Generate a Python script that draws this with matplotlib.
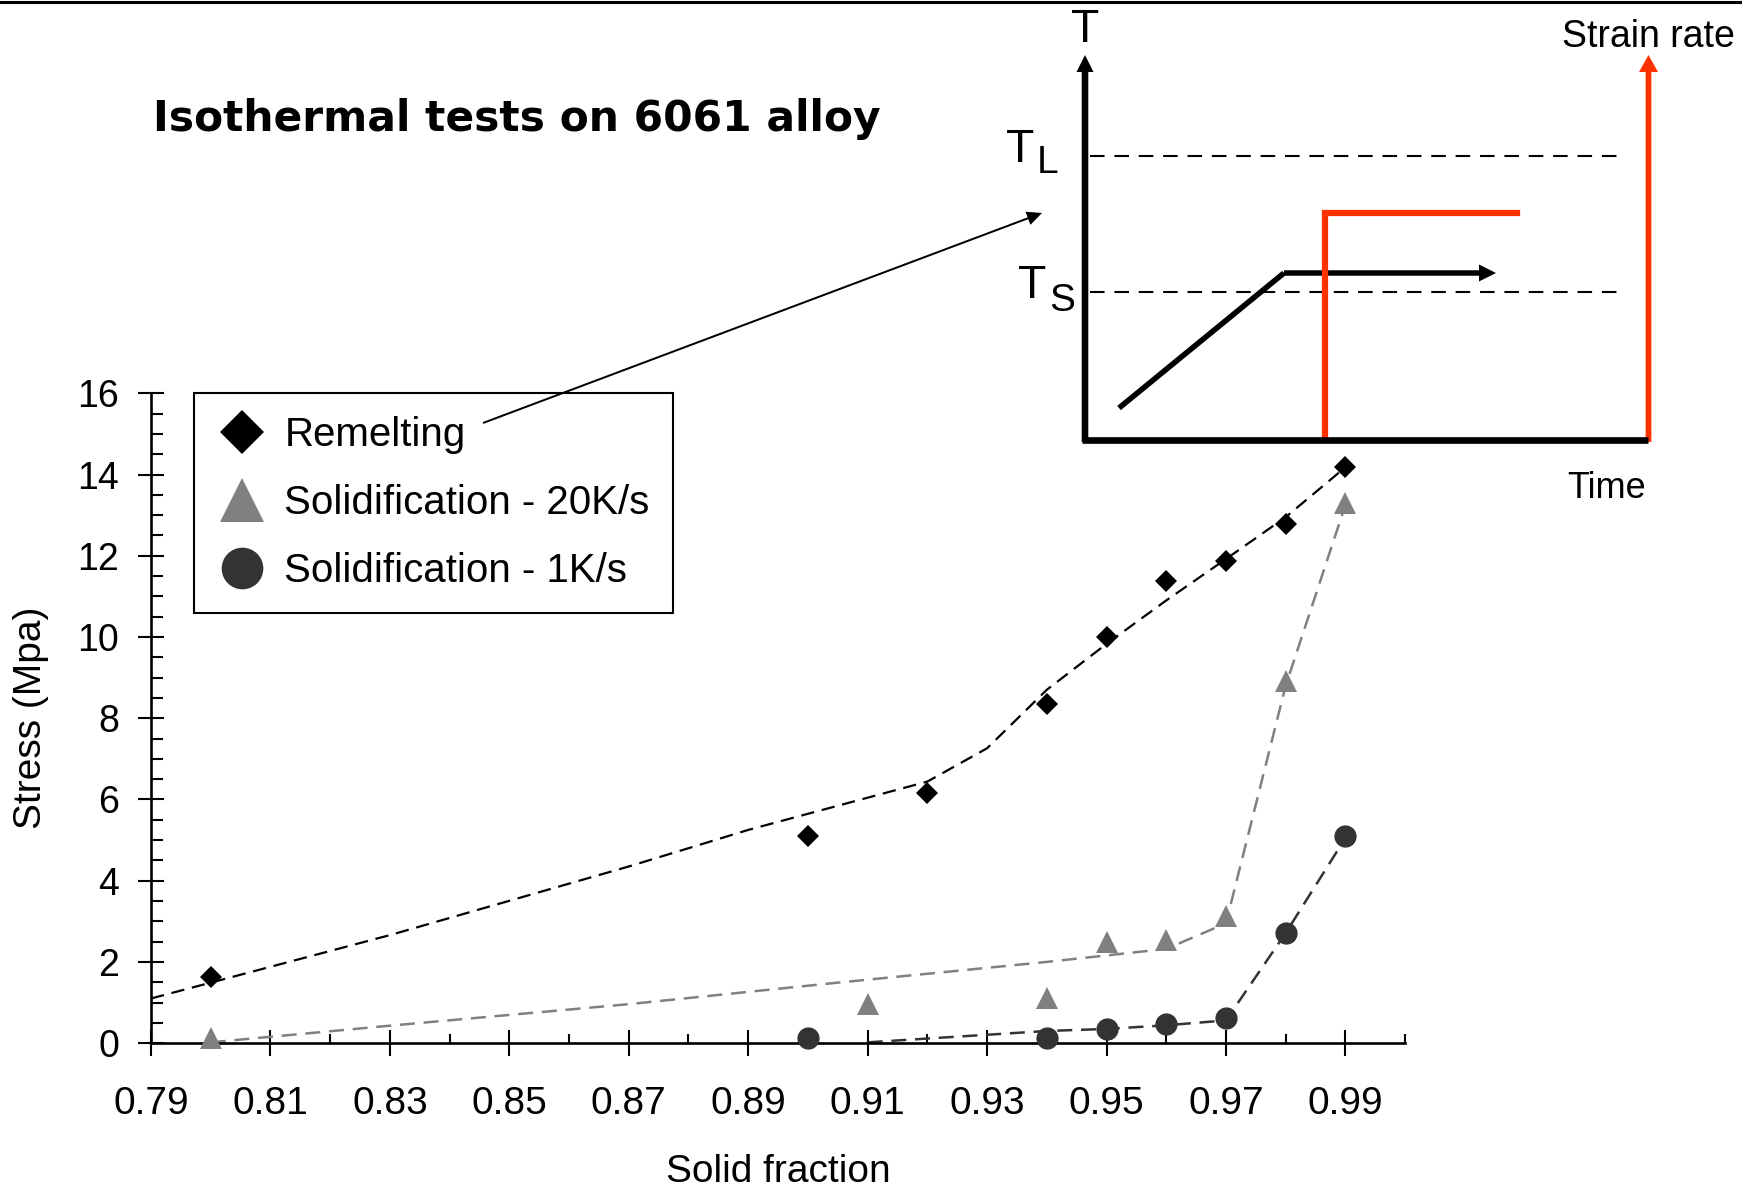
import matplotlib
matplotlib.use('Agg')
import matplotlib.pyplot as plt
from matplotlib.lines import Line2D
from matplotlib.ticker import MultipleLocator, FixedLocator

plt.rcParams['font.family'] = ['Liberation Sans', 'DejaVu Sans']

# ---- data ----
remelt_x = [0.80, 0.90, 0.92, 0.94, 0.95, 0.96, 0.97, 0.98, 0.99]
remelt_y = [1.64, 5.10, 6.15, 8.34, 10.0, 11.37, 11.88, 12.77, 14.18]
remelt_fit_x = [0.79, 0.83, 0.87, 0.89, 0.92, 0.93, 0.94, 0.95, 0.96, 0.97, 0.98, 0.99]
remelt_fit_y = [1.10, 2.66, 4.35, 5.25, 6.44, 7.26, 8.70, 9.83, 10.9, 11.92, 12.95, 14.18]

fast_x = [0.80, 0.91, 0.94, 0.95, 0.96, 0.97, 0.98, 0.99]
fast_y = [0.13, 0.97, 1.11, 2.48, 2.54, 3.14, 8.91, 13.31]
fast_fit_x = [0.80, 0.83, 0.87, 0.905, 0.94, 0.96, 0.97, 0.98, 0.99]
fast_fit_y = [0.02, 0.43, 0.96, 1.49, 2.0, 2.32, 2.95, 8.8, 13.25]

slow_x = [0.90, 0.94, 0.95, 0.96, 0.97, 0.98, 0.99]
slow_y = [0.12, 0.12, 0.36, 0.46, 0.61, 2.71, 5.10]
slow_fit_x = [0.91, 0.94, 0.95, 0.96, 0.97, 0.98, 0.99]
slow_fit_y = [0.02, 0.30, 0.35, 0.44, 0.56, 2.71, 5.05]

labels = ['Remelting', 'Solidification - 20K/s', 'Solidification - 1K/s']
xticks = [0.79, 0.81, 0.83, 0.85, 0.87, 0.89, 0.91, 0.93, 0.95, 0.97, 0.99]
xticklabels = ['0.79', '0.81', '0.83', '0.85', '0.87', '0.89', '0.91', '0.93', '0.95', '0.97', '0.99']
xminor = [0.80, 0.82, 0.84, 0.86, 0.88, 0.90, 0.92, 0.94, 0.96, 0.98, 1.00]

# schematic (drawn in figure pixels)
t_axis = ([1085, 1085], [442, 55])
time_axis = ([1082, 1648], [439.5, 439.5])
rate_axis = ([1648.5, 1648.5], [442, 55])
tl_line = ([1090, 1619], [156, 156])
ts_line = ([1090, 1619], [292, 292])
ramp = ([1119, 1284], [408, 273])
hold = ([1284, 1496], [273, 273])
step = ([1325, 1325, 1517], [439, 213, 213])
pointer = ([483, 1042], [423, 213])

RED = '#ff3300'
GRAY = '#808080'
DARK = '#333333'

fig = plt.figure(figsize=(17.42, 11.90), dpi=100)
ax = fig.add_axes([0.0867, 0.1234, 0.7199, 0.5461])

dash = (0, (6, 3.5))
ax.plot(remelt_fit_x, remelt_fit_y, color='black', lw=1.6, ls=dash, zorder=2)
ax.plot(fast_fit_x, fast_fit_y, color=GRAY, lw=1.8, ls=dash, zorder=2)
ax.plot(slow_fit_x, slow_fit_y, color=DARK, lw=1.8, ls=dash, zorder=2)

ax.plot(remelt_x, remelt_y, ls='none', marker='D', color='black', ms=11.5, mew=0, zorder=3, clip_on=False)
ax.plot(fast_x, fast_y, ls='none', marker='^', color=GRAY, ms=16, mew=0, zorder=3, clip_on=False)
ax.plot(slow_x, slow_y, ls='none', marker='o', color=DARK, ms=16, mew=0, zorder=3, clip_on=False)

ax.set_xlim(0.79, 1.00)
ax.set_ylim(0, 16)
ax.xaxis.set_major_locator(FixedLocator(xticks))
ax.set_xticklabels(xticklabels)
ax.xaxis.set_minor_locator(FixedLocator(xminor))
ax.yaxis.set_major_locator(MultipleLocator(2))
ax.yaxis.set_minor_locator(MultipleLocator(0.5))

for s in ['top', 'right']:
    ax.spines[s].set_visible(False)
for s in ['left', 'bottom']:
    ax.spines[s].set_linewidth(1.9)

ax.tick_params(axis='both', which='major', direction='inout', length=19.2, width=1.5)
ax.tick_params(axis='y', which='major', pad=13.5, labelsize=27)
ax.tick_params(axis='x', which='major', pad=21.5, labelsize=28)
ax.tick_params(axis='y', which='minor', direction='in', length=8.4, width=1.5)
ax.tick_params(axis='x', which='minor', direction='in', length=6.7, width=1.5)

ax.set_ylabel('Stress (Mpa)', fontsize=28)
ax.yaxis.set_label_coords(-0.081, 0.5)
ax.set_xlabel('Solid fraction', fontsize=28, va='top')
ax.xaxis.set_label_coords(0.5, -0.1705)

handles = [
    Line2D([], [], ls='none', marker='D', color='black', ms=22, mew=0),
    Line2D([], [], ls='none', marker='^', color=GRAY, ms=31, mew=0),
    Line2D([], [], ls='none', marker='o', color=DARK, ms=30, mew=0),
]
leg = ax.legend(handles, labels, loc='upper left', bbox_to_anchor=(0.0343, 1.0),
                fontsize=29, numpoints=1, frameon=True, fancybox=False,
                edgecolor='black', framealpha=1, borderpad=0.57, labelspacing=0.74,
                handlelength=1.22, handletextpad=0.45, borderaxespad=0)
leg.get_frame().set_linewidth(1.5)

# overlay in pixel coordinates for the title and the schematic
ov = fig.add_axes([0, 0, 1, 1], zorder=5)
ov.set_xlim(0, 1742)
ov.set_ylim(1190, 0)
ov.set_axis_off()

ov.plot([0, 1742], [1.5, 1.5], color='black', lw=2.2)
ov.text(153, 131, 'Isothermal tests on 6061 alloy', fontsize=30.5, fontweight='bold',
        family='DejaVu Sans', ha='left', va='baseline')

ov.plot(*tl_line, color='black', lw=1.5, ls=(0, (7, 4.7)))
ov.plot(*ts_line, color='black', lw=1.5, ls=(0, (7, 4.7)))
ov.plot(*step, color=RED, lw=4.5, solid_joinstyle='miter')
ov.plot(*ramp, color='black', lw=4.0, solid_capstyle='butt')
ov.arrow(hold[0][0], hold[1][0], hold[0][1] - hold[0][0], 0, width=5.5, head_width=17,
         head_length=17, length_includes_head=True, color='black', lw=0)
ov.arrow(t_axis[0][0], t_axis[1][0], 0, t_axis[1][1] - t_axis[1][0], width=6.6, head_width=17,
         head_length=17, length_includes_head=True, color='black', lw=0)
ov.arrow(rate_axis[0][0], rate_axis[1][0], 0, rate_axis[1][1] - rate_axis[1][0], width=5.7,
         head_width=19, head_length=17, length_includes_head=True, color=RED, lw=0)
ov.plot(*time_axis, color='black', lw=4.8, solid_capstyle='butt')
ov.arrow(pointer[0][0], pointer[1][0], pointer[0][1] - pointer[0][0], pointer[1][1] - pointer[1][0],
         width=2.0, head_width=14, head_length=15, length_includes_head=True, color='black', lw=0)

ov.text(1085, 42, 'T', fontsize=33.5, ha='center', va='baseline')
ov.text(1006, 162, 'T', fontsize=33.5, ha='left', va='baseline')
ov.text(1037, 173, 'L', fontsize=28, ha='left', va='baseline')
ov.text(1018, 298, 'T', fontsize=33.5, ha='left', va='baseline')
ov.text(1049, 311, 'S', fontsize=28, ha='left', va='baseline')
ov.text(1562, 47, 'Strain rate', fontsize=27, ha='left', va='baseline')
ov.text(1567, 498, 'Time', fontsize=26, ha='left', va='baseline')

fig.savefig('out.png', dpi=100)
